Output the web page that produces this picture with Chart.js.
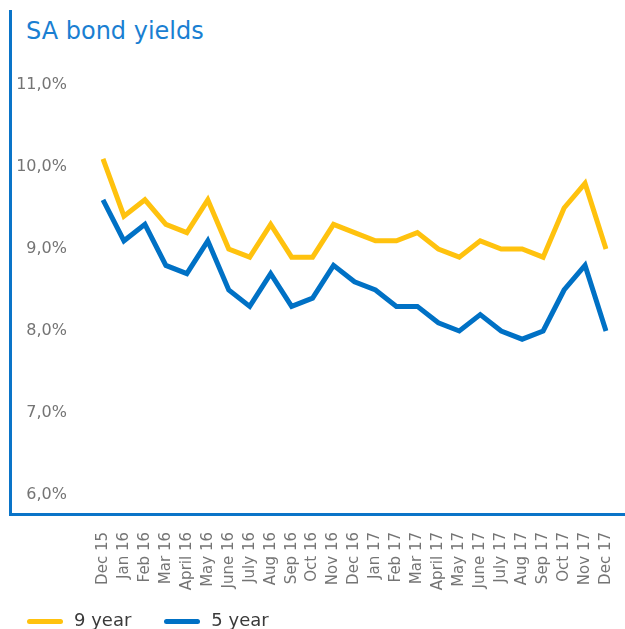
<!DOCTYPE html>
<html>
<head>
<meta charset="utf-8">
<script src="https://cdn.jsdelivr.net/npm/chart.js@4.4.1/dist/chart.umd.min.js"></script>
<style>
  html, body { margin: 0; padding: 0; background: #ffffff; }
  #wrap { position: relative; width: 625px; height: 629px; overflow: hidden; }
  #frame {
    position: absolute; left: 9px; top: 10px; width: 613px; height: 503px;
    border-left: 3px solid #0a74c8; border-bottom: 3px solid #0a74c8;
  }
  #title {
    position: absolute; left: 26px; top: 19px; margin: 0;
    font: 24px/24px "DejaVu Sans", sans-serif; color: #1a7fd2; white-space: nowrap;
  }
  #c { position: absolute; left: 0; top: 0; }
  #legend {
    position: absolute; left: 0; top: 608px; margin: 0; padding: 0;
    list-style: none; display: flex; align-items: center;
    font: 18px/24px "DejaVu Sans", sans-serif; color: #3a3a3a;
  }
  #legend li { display: flex; align-items: center; margin-left: 27px; }
  #legend li + li { margin-left: 33px; }
  #legend .swatch { display: inline-block; width: 36px; height: 5px; border-radius: 3px; margin-right: 11px; margin-top: 3px; }
</style>
</head>
<body>
<div id="wrap">
  <div id="frame"></div>
  <div id="title">SA bond yields</div>
  <canvas id="c" width="625" height="629"></canvas>
  <ul id="legend"></ul>
</div>
<script>
// Month-end yields, per cent
const months = ["Dec 15", "Jan 16", "Feb 16", "Mar 16", "April 16", "May 16", "June 16",
  "July 16", "Aug 16", "Sep 16", "Oct 16", "Nov 16", "Dec 16", "Jan 17", "Feb 17",
  "Mar 17", "April 17", "May 17", "June 17", "July 17", "Aug 17", "Sep 17", "Oct 17",
  "Nov 17", "Dec 17"];
const nineYear = [10.1, 9.4, 9.6, 9.3, 9.2, 9.6, 9.0, 8.9, 9.3, 8.9, 8.9, 9.3, 9.2, 9.1,
  9.1, 9.2, 9.0, 8.9, 9.1, 9.0, 9.0, 8.9, 9.5, 9.8, 9.0];
const fiveYear = [9.6, 9.1, 9.3, 8.8, 8.7, 9.1, 8.5, 8.3, 8.7, 8.3, 8.4, 8.8, 8.6, 8.5,
  8.3, 8.3, 8.1, 8.0, 8.2, 8.0, 7.9, 8.0, 8.5, 8.8, 8.0];
const yTicks = [6, 7, 8, 9, 10, 11];

const YELLOW = "#ffc20e";
const BLUE = "#0071c5";
const GREY = "#747474";
const FONT = "'DejaVu Sans', sans-serif";

const fmt = v => v.toFixed(1).replace(".", ",") + "%";

// Builds the series key below the chart from the datasets
const htmlLegend = {
  id: "htmlLegend",
  afterUpdate(chart) {
    const ul = document.getElementById("legend");
    ul.innerHTML = "";
    chart.data.datasets.forEach(ds => {
      const li = document.createElement("li");
      const sw = document.createElement("span");
      sw.className = "swatch";
      sw.style.background = ds.borderColor;
      const tx = document.createElement("span");
      tx.textContent = ds.label;
      li.appendChild(sw);
      li.appendChild(tx);
      ul.appendChild(li);
    });
  }
};

new Chart(document.getElementById("c"), {
  type: "line",
  data: {
    labels: months,
    datasets: [
      { label: "9 year", data: nineYear, borderColor: YELLOW, backgroundColor: YELLOW,
        borderWidth: 5, pointRadius: 0, tension: 0, fill: false },
      { label: "5 year", data: fiveYear, borderColor: BLUE, backgroundColor: BLUE,
        borderWidth: 5, pointRadius: 0, tension: 0, fill: false }
    ]
  },
  options: {
    responsive: false,
    animation: false,
    devicePixelRatio: 1,
    layout: { padding: { left: -7, right: 19, top: 85, bottom: 0 } },
    scales: {
      x: {
        type: "category",
        offset: false,
        border: { display: false },
        grid: { display: false, drawTicks: false },
        ticks: {
          autoSkip: false, minRotation: 90, maxRotation: 90, padding: 37,
          color: GREY, font: { family: FONT, size: 15 }
        },
        afterFit: s => { s.height = 134; s.paddingLeft = 0; s.paddingRight = 0; }
      },
      y: {
        min: 6, max: 11,
        border: { display: false },
        grid: { display: false, drawTicks: false },
        afterBuildTicks: s => { s.ticks = yTicks.map(v => ({ value: v })); },
        ticks: {
          padding: 36, color: GREY, font: { family: FONT, size: 16 },
          callback: v => fmt(v)
        },
        afterFit: s => { s.width = 110; s.paddingTop = 0; s.paddingBottom = 0; }
      }
    },
    plugins: {
      title: { display: false },
      tooltip: { enabled: false },
      legend: { display: false }
    }
  },
  plugins: [htmlLegend]
});
</script>
</body>
</html>
